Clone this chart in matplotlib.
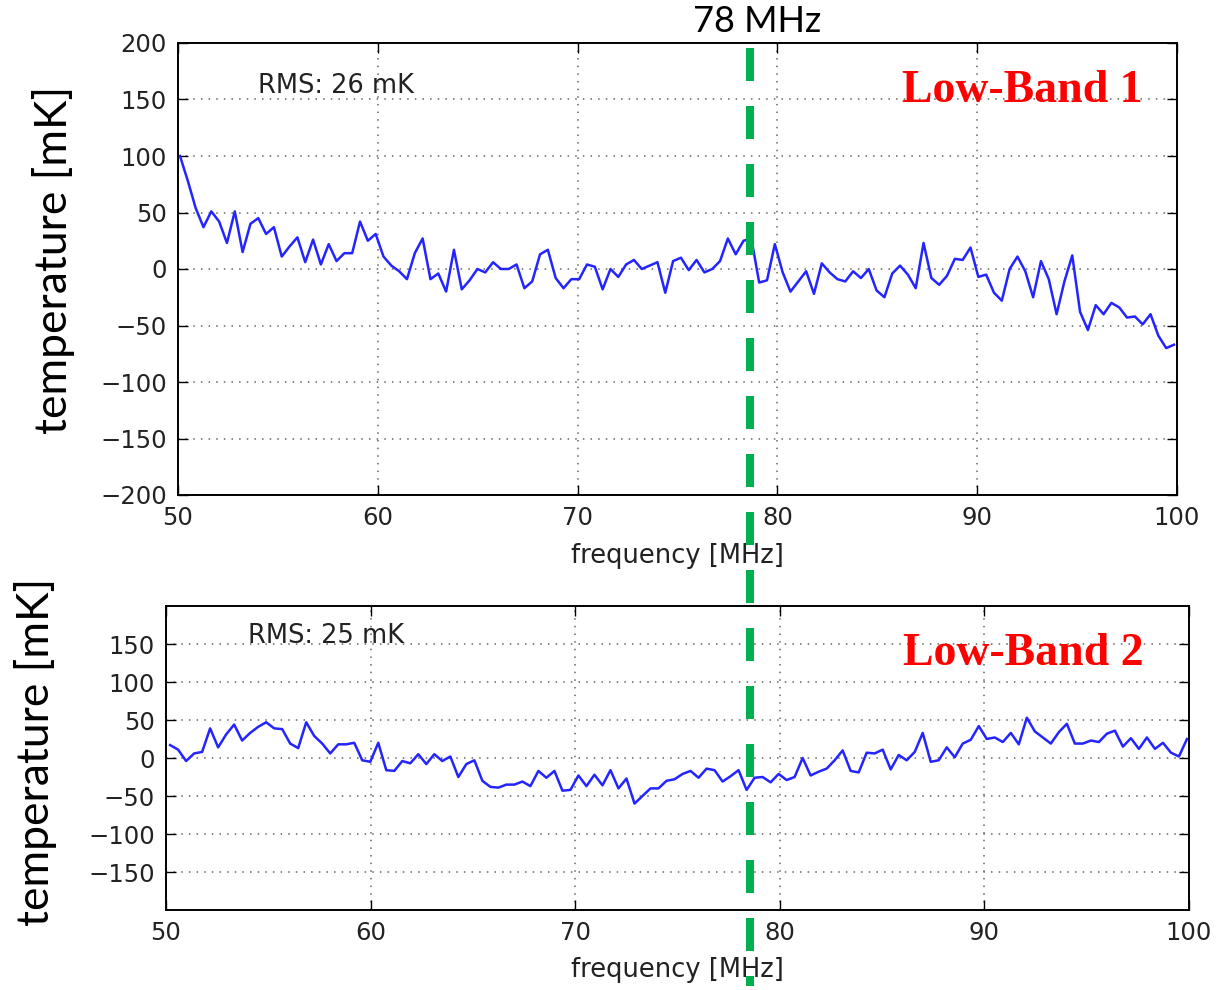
import numpy as np
import matplotlib
matplotlib.use("Agg")
import matplotlib.pyplot as plt
from matplotlib.lines import Line2D

# ---------------------------------------------------------
# Data, 128 channels per band
# ---------------------------------------------------------
freq_lb1 = np.linspace(50.1, 99.85, 128)
freq_lb2 = np.linspace(50.2, 99.9, 128)

temp_lb1 = [
    100, 78, 54, 37, 51, 42, 23, 51, 15, 40, 45, 31, 37, 11, 20, 28,
    6, 26, 4, 22, 7, 14, 14, 42, 25, 31, 11, 3, -2, -9, 14, 27,
    -9, -4, -20, 17, -18, -10, 0, -3, 6, 0, 0, 4, -17, -11, 13, 17,
    -8, -17, -9, -9, 4, 2, -18, 0, -7, 4, 8, 0, 3, 6, -21, 7,
    10, -1, 8, -3, 0, 7, 27, 13, 25, 27, -12, -10, 22, -3, -20, -11,
    -2, -22, 5, -3, -9, -11, -2, -8, 0, -19, -25, -4, 3, -5, -17, 23,
    -8, -14, -6, 9, 8, 19, -7, -5, -21, -28, 0, 11, -2, -25, 7, -9,
    -40, -11, 12, -38, -54, -32, -40, -30, -34, -43, -42, -49, -40, -59, -70, -67,
]

temp_lb2 = [
    17, 11, -4, 6, 8, 39, 14, 31, 44, 23, 33, 41, 47, 39, 38, 19,
    13, 47, 29, 19, 6, 18, 18, 20, -3, -5, 20, -16, -17, -4, -7, 5,
    -8, 5, -4, 2, -25, -8, -3, -30, -38, -39, -35, -35, -31, -37, -17, -26,
    -17, -43, -42, -23, -37, -22, -36, -16, -40, -27, -60, -50, -40, -40, -30, -28,
    -21, -17, -26, -14, -16, -31, -24, -16, -42, -26, -25, -32, -21, -29, -25, 0,
    -23, -18, -14, -3, 10, -17, -19, 7, 6, 11, -15, 4, -3, 8, 33, -5,
    -3, 14, 1, 19, 24, 42, 25, 27, 21, 33, 18, 53, 35, 27, 19, 34,
    45, 19, 19, 23, 21, 32, 36, 15, 26, 12, 27, 12, 20, 7, 2, 25,
]

rms_text = ["RMS: 26 mK", "RMS: 25 mK"]
band_names = ["Low-Band 1", "Low-Band 2"]
xticks = [50, 60, 70, 80, 90, 100]
yticks_lb1 = [-200, -150, -100, -50, 0, 50, 100, 150, 200]
yticks_lb2 = [-150, -100, -50, 0, 50, 100, 150]

W, H = 1219, 990
fig = plt.figure(figsize=(W / 100, H / 100), dpi=100)

# panel rectangles from pixel positions
ax1 = fig.add_axes([178 / W, 1 - 495 / H, 999 / W, 452 / H])
ax2 = fig.add_axes([166 / W, 1 - 910 / H, 1023 / W, 304 / H])

line_kw = dict(color="#2424ff", lw=1.8)
ax1.plot(freq_lb1, temp_lb1, **line_kw)
ax2.plot(freq_lb2, temp_lb2, **line_kw)

ax1.set_ylim(-200, 200)
ax1.set_yticks(yticks_lb1)
ax2.set_ylim(-200, 200)
ax2.set_yticks(yticks_lb2)

for ax, rms, name in zip([ax1, ax2], rms_text, band_names):
    ax.set_xlim(50, 100)
    ax.set_xticks(xticks)
    ax.grid(True, color="#666666", linestyle=(0, (1, 4)), linewidth=1.1)
    ax.tick_params(direction="in", top=True, right=True, length=7, width=1,
                   labelsize=17.5, labelcolor="#222222", pad=8)
    for sp in ax.spines.values():
        sp.set_linewidth(1.4)
    ax.set_xlabel("frequency [MHz]", fontsize=18.5, color="#222222")
    ax.set_ylabel("temperature [mK]", fontsize=32, family="Lato")

ax1.xaxis.set_label_coords(0.5, -0.135)
ax2.xaxis.set_label_coords(0.5, -0.197)
ax1.xaxis.label.set_va("center")
ax2.xaxis.label.set_va("center")
ax1.yaxis.set_label_coords(-0.125, 0.52)
ax2.yaxis.set_label_coords(-0.128, 0.52)
ax1.yaxis.label.set_va("center")
ax2.yaxis.label.set_va("center")

ax1.text(0.08, 0.889, rms_text[0], transform=ax1.transAxes, fontsize=18.5,
         color="#222222", va="baseline")
ax2.text(0.08, 0.878, rms_text[1], transform=ax2.transAxes, fontsize=18.5,
         color="#222222", va="baseline")
ax1.text(0.725, 0.869, band_names[0], transform=ax1.transAxes, fontsize=33,
         family="Liberation Serif", weight="bold", color="#ff0000", va="baseline")
ax2.text(0.72, 0.806, band_names[1], transform=ax2.transAxes, fontsize=33,
         family="Liberation Serif", weight="bold", color="#ff0000", va="baseline")

# green dashed marker running through both panels
xg = 750 / W
fig.add_artist(Line2D([xg, xg], [1 - 48 / H, 1 - 986 / H], transform=fig.transFigure,
                      color="#00b050", lw=5.8, dashes=(4.1, 3.1),
                      solid_capstyle="butt", dash_capstyle="butt"))
fig.text(757 / W, 1 - 22 / H, "78 MHz", fontsize=26, family="Lato",
         ha="center", va="center", color="black")

fig.savefig("out.png", dpi=100)
